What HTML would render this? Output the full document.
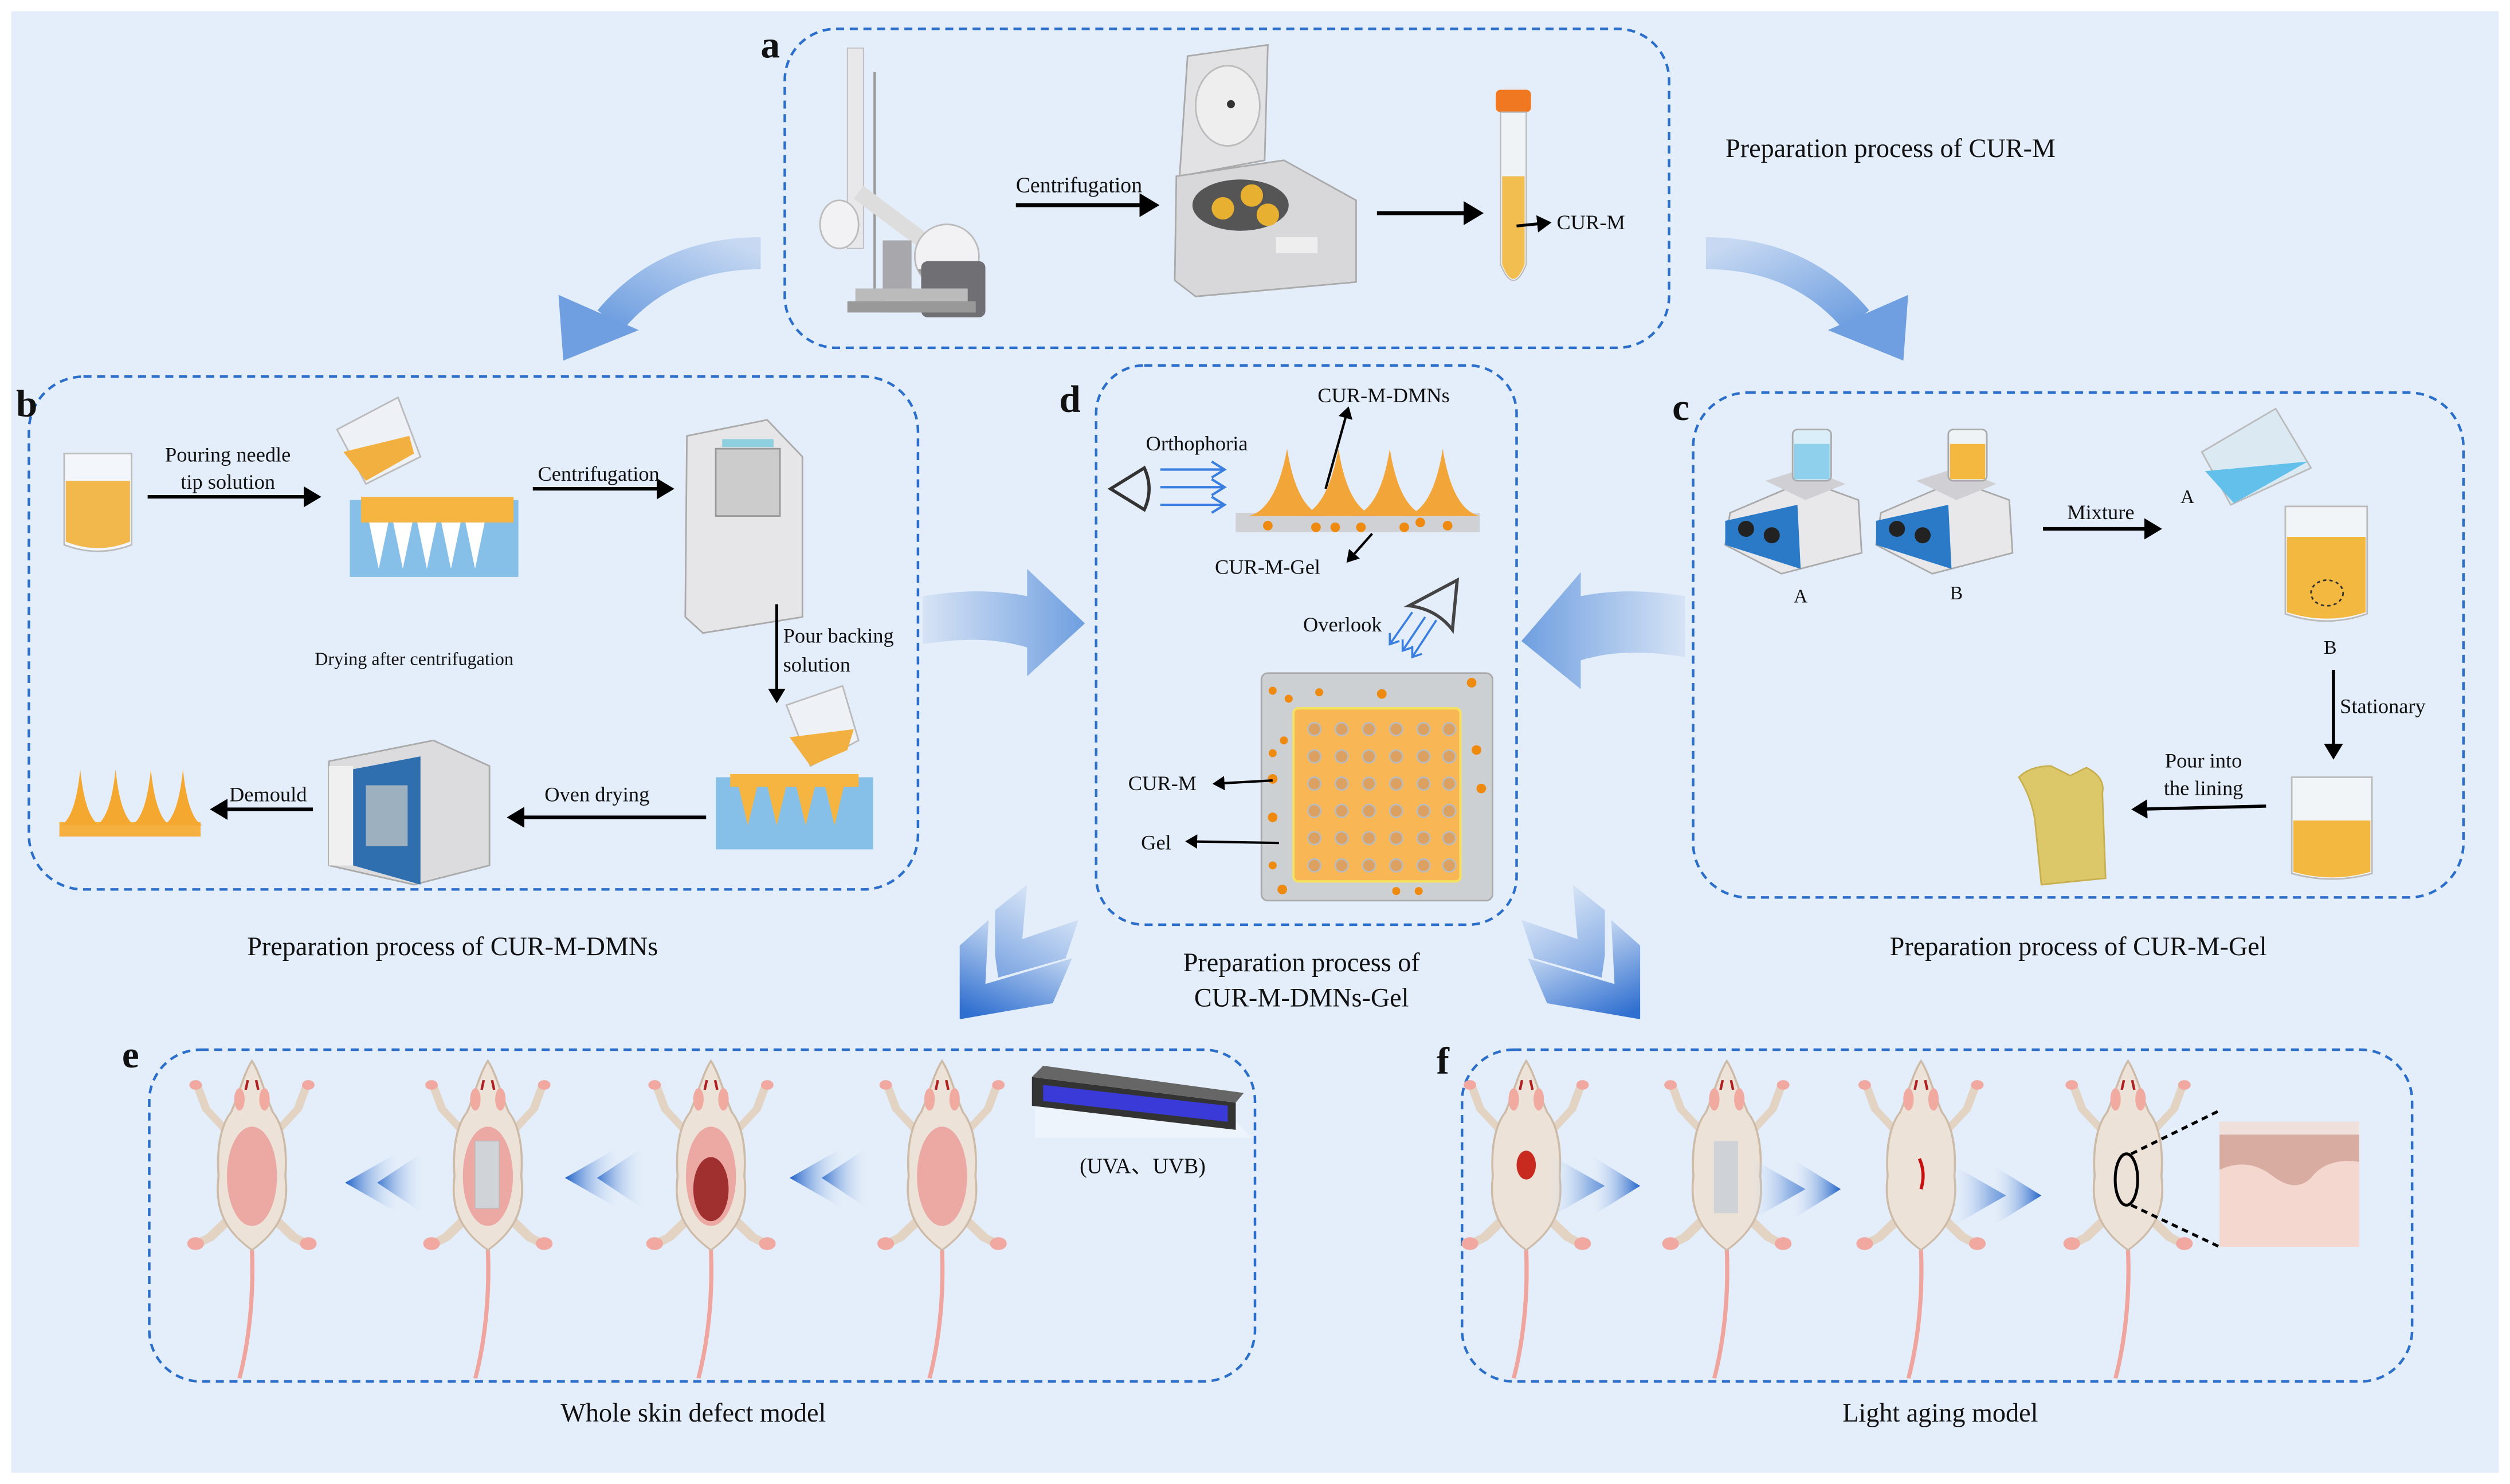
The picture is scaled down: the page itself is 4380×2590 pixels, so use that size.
<!DOCTYPE html>
<html><head><meta charset="utf-8"><style>
html,body{margin:0;padding:0;background:#fff}
svg{display:block}
text{font-family:"Liberation Serif",serif;fill:#111}
</style></head><body>
<svg width="4380" height="2590" viewBox="0 0 1564 926" preserveAspectRatio="none" xmlns="http://www.w3.org/2000/svg">
<defs>
<linearGradient id="ga" x1="1" y1="0" x2="0" y2="1"><stop offset="0" stop-color="#c7d9f2"/><stop offset="1" stop-color="#6f9fe0"/></linearGradient>
<linearGradient id="gb" x1="0" y1="0" x2="1" y2="0"><stop offset="0" stop-color="#d6e3f5"/><stop offset="1" stop-color="#6f9fe0"/></linearGradient>
<linearGradient id="gc" x1="1" y1="0" x2="0" y2="0"><stop offset="0" stop-color="#d6e3f5"/><stop offset="1" stop-color="#6f9fe0"/></linearGradient>
<linearGradient id="gv" x1="0.7" y1="0" x2="0.2" y2="1"><stop offset="0" stop-color="#e3edf9"/><stop offset="1" stop-color="#2f6fd0"/></linearGradient>
<linearGradient id="gl" x1="1" y1="0" x2="0" y2="0"><stop offset="0" stop-color="#e6eefa" stop-opacity="0"/><stop offset="1" stop-color="#1f62c8"/></linearGradient>
<linearGradient id="gr" x1="0" y1="0" x2="1" y2="0"><stop offset="0" stop-color="#e6eefa" stop-opacity="0"/><stop offset="1" stop-color="#1f62c8"/></linearGradient>
<marker id="ah" markerWidth="6" markerHeight="6" refX="4" refY="3" orient="auto" markerUnits="strokeWidth"><path d="M0,0 L5,3 L0,6 Z" fill="#000"/></marker>
<g id="mouse">
<path d="M0,118 C1,150 -2,178 -6,198" stroke="#f0a49e" stroke-width="2" fill="none"/>
<path d="M-12,44 L-22,30 L-26,16" stroke="#e2d3c3" stroke-width="4" fill="none"/>
<path d="M12,44 L22,30 L26,16" stroke="#e2d3c3" stroke-width="4" fill="none"/>
<path d="M-12,100 L-20,110 L-26,114" stroke="#e2d3c3" stroke-width="5" fill="none"/>
<path d="M12,100 L20,110 L26,114" stroke="#e2d3c3" stroke-width="5" fill="none"/>
<circle cx="-27" cy="15" r="3" fill="#f0a8a0"/><circle cx="27" cy="15" r="3" fill="#f0a8a0"/>
<circle cx="-27" cy="114" r="4" fill="#f0a8a0"/><circle cx="27" cy="114" r="4" fill="#f0a8a0"/>
<path d="M0,0 C-4,8 -6,20 -10,32 C-15,40 -17,55 -16,72 C-18,92 -13,106 0,118 C13,106 18,92 16,72 C17,55 15,40 10,32 C6,20 4,8 0,0Z" fill="#ece2d8" stroke="#cdbba8" stroke-width="1"/>
<ellipse cx="-6" cy="24" rx="2.5" ry="7" fill="#f0aaa0"/><ellipse cx="6" cy="24" rx="2.5" ry="7" fill="#f0aaa0"/>
<path d="M-2,12 L-3,18 M2,12 L3,18" stroke="#b02020" stroke-width="1.2"/>
</g>
<g id="belly"><ellipse cx="0" cy="72" rx="12" ry="31" fill="#eca8a3"/></g>
<g id="chev">
<path d="M598,636 L598,590 L616,574 L614,614 L668,598 L656,626 Z" fill="url(#gv)"/>
<path d="M620,596 L620,568 L640,552 L637,586 L672,574 L664,598 L622,610 Z" fill="url(#gv)" opacity="0.55"/>
</g>
</defs>

<rect x="0" y="0" width="1564" height="926" fill="#fff"/>
<rect x="7" y="7" width="1550" height="912" fill="#e4eefa"/>

<!-- dashed boxes -->
<g fill="none" stroke="#2b6fcb" stroke-width="1.6" stroke-dasharray="5,3.5">
<rect x="489" y="18" width="551" height="199" rx="32"/>
<rect x="18" y="235" width="554" height="320" rx="34"/>
<rect x="1055" y="245" width="480" height="315" rx="34"/>
<rect x="683" y="228" width="262" height="349" rx="30"/>
<rect x="93" y="655" width="689" height="207" rx="32"/>
<rect x="911" y="655" width="592" height="207" rx="32"/>
</g>

<!-- panel letters -->
<g font-weight="bold" font-size="24">
<text x="474" y="36">a</text><text x="10" y="260">b</text><text x="1042" y="262">c</text>
<text x="660" y="257">d</text><text x="76" y="666">e</text><text x="895" y="670">f</text>
</g>

<!-- big curved arrows -->
<g id="carrow">
<path d="M474,158 Q415,158 380,200" stroke="url(#ga)" stroke-width="20" fill="none"/>
<path d="M351,225 L348,184 L398,206 Z" fill="#6f9fe0"/>
</g>
<use href="#carrow" transform="translate(1537,0) scale(-1,1)"/>
<path d="M575,372 C600,368 620,368 640,372 L640,355 L676,389 L640,422 L640,404 C620,398 600,398 575,402 Z" fill="url(#gb)"/>
<path d="M1050,372 C1025,368 1005,368 985,372 L985,357 L948,400 L985,430 L985,412 C1005,406 1025,406 1050,410 Z" fill="url(#gc)"/>

<!-- double chevrons down -->
<use href="#chev"/>
<use href="#chev" transform="translate(1620,0) scale(-1,1)"/>

<!-- captions -->
<g font-size="16.5" text-anchor="middle">
<text x="1178" y="98">Preparation process of CUR-M</text>
<text x="282" y="596">Preparation process of CUR-M-DMNs</text>
<text x="1295" y="596">Preparation process of CUR-M-Gel</text>
<text x="811" y="606">Preparation process of</text>
<text x="811" y="628">CUR-M-DMNs-Gel</text>
<text x="432" y="887">Whole skin defect model</text>
<text x="1209" y="887">Light aging model</text>
</g>

<!-- ===== panel a ===== -->
<g>
<rect x="528" y="30" width="10" height="125" fill="#e8e8ea" stroke="#bbb" stroke-width="0.6"/>
<line x1="545" y1="45" x2="545" y2="180" stroke="#999" stroke-width="1.5"/>
<path d="M535,120 L575,150" stroke="#ddd" stroke-width="10"/>
<circle cx="590" cy="160" r="20" fill="#f2f2f4" stroke="#bbb"/>
<path d="M572,168 A20,20 0 0 0 608,168 Z" fill="#999"/>
<ellipse cx="523" cy="140" rx="12" ry="15" fill="#f2f2f4" stroke="#bbb"/>
<rect x="550" y="150" width="18" height="45" fill="#a8a8ac"/>
<rect x="574" y="163" width="40" height="35" rx="4" fill="#707074"/>
<rect x="528" y="188" width="80" height="7" fill="#999"/>
<rect x="533" y="180" width="70" height="8" fill="#bbb"/>
<path d="M740,35 L790,28 L788,100 L735,110 Z" fill="#e2e2e4" stroke="#aaa"/>
<ellipse cx="765" cy="66" rx="20" ry="25" fill="#eee" stroke="#bbb"/>
<circle cx="767" cy="65" r="2.5" fill="#333"/>
<path d="M733,110 L800,100 L845,125 L845,176 L745,185 L732,175 Z" fill="#d8d8da" stroke="#aaa"/>
<ellipse cx="773" cy="128" rx="30" ry="16" fill="#555"/>
<circle cx="762" cy="130" r="7" fill="#e8b030"/><circle cx="780" cy="122" r="7" fill="#e8b030"/><circle cx="790" cy="134" r="7" fill="#e8b030"/>
<rect x="795" y="148" width="26" height="10" fill="#eee"/>
<path d="M633,128 L720,128" stroke="#000" stroke-width="2.5" marker-end="url(#ah)"/>
<text x="633" y="120" font-size="13.5">Centrifugation</text>
<path d="M858,133 L922,133" stroke="#000" stroke-width="2.5" marker-end="url(#ah)"/>
<rect x="932" y="56" width="22" height="14" rx="3" fill="#f07820"/>
<path d="M935,70 L951,70 L951,165 Q943,185 935,165 Z" fill="#f0f3f6" stroke="#bbb" stroke-width="0.8"/>
<path d="M936,110 L950,110 L950,165 Q943,183 936,165 Z" fill="#f2be50"/>
<path d="M945,141 L965,139" stroke="#000" stroke-width="1.8" marker-end="url(#ah)"/>
<text x="970" y="143" font-size="13">CUR-M</text>
</g>

<!-- ===== panel b ===== -->
<g>
<path d="M40,283 L82,283 L82,340 Q61,348 40,340 Z" fill="#f3f6fa" stroke="#bbb"/>
<path d="M41,300 L81,300 L81,338 Q61,346 41,338 Z" fill="#f2b84c"/>
<path d="M92,310 L198,310" stroke="#000" stroke-width="2.2" marker-end="url(#ah)"/>
<text x="142" y="288" font-size="13" text-anchor="middle">Pouring needle</text>
<text x="142" y="305" font-size="13" text-anchor="middle">tip solution</text>
<path d="M210,268 L248,248 L262,285 L228,302 Z" fill="#eef2f6" stroke="#bbb"/>
<path d="M214,282 L255,272 L258,283 L228,300 Z" fill="#f2b040"/>
<rect x="218" y="312" width="105" height="48" fill="#86c0e8"/>
<rect x="225" y="310" width="95" height="16" fill="#f5b540"/>
<g fill="#fff"><path d="M230,326 L236,355 L242,326Z"/><path d="M245,326 L251,355 L257,326Z"/><path d="M260,326 L266,355 L272,326Z"/><path d="M275,326 L281,355 L287,326Z"/><path d="M290,326 L296,355 L302,326Z"/></g>
<path d="M332,305 L418,305" stroke="#000" stroke-width="2.2" marker-end="url(#ah)"/>
<text x="373" y="300" font-size="13" text-anchor="middle">Centrifugation</text>
<path d="M428,272 L478,262 L500,285 L500,385 L438,395 L427,385 Z" fill="#e6e6e8" stroke="#aaa"/>
<rect x="446" y="280" width="40" height="42" fill="#ccc" stroke="#999"/>
<rect x="450" y="274" width="32" height="5" fill="#8fd0e0"/>
<text x="258" y="415" font-size="11.5" text-anchor="middle">Drying after centrifugation</text>
<path d="M484,377 L484,437" stroke="#000" stroke-width="1.8" marker-end="url(#ah)"/>
<text x="488" y="401" font-size="13">Pour backing</text>
<text x="488" y="419" font-size="13">solution</text>
<rect x="446" y="485" width="98" height="45" fill="#86c0e8"/>
<rect x="455" y="483" width="80" height="8" fill="#f5b540"/>
<g fill="#f5b540"><path d="M460,490 L466,515 L472,490Z"/><path d="M478,490 L484,515 L490,490Z"/><path d="M496,490 L502,515 L508,490Z"/><path d="M514,490 L520,515 L526,490Z"/></g>
<path d="M490,440 L525,428 L535,462 L505,478 Z" fill="#eef2f6" stroke="#bbb"/>
<path d="M492,460 L532,455 L528,468 L505,478 Z" fill="#f2b040"/>
<path d="M440,510 L318,510" stroke="#000" stroke-width="2.2" marker-end="url(#ah)"/>
<text x="372" y="500" font-size="13" text-anchor="middle">Oven drying</text>
<path d="M205,475 L270,462 L305,478 L305,540 L258,552 L205,540 Z" fill="#dcdcde" stroke="#aaa"/>
<path d="M220,480 L262,472 L262,552 L220,540 Z" fill="#2f6fb0"/>
<rect x="228" y="490" width="26" height="38" fill="#9cb0c0"/>
<rect x="205" y="478" width="15" height="62" fill="#f0f0f0"/>
<path d="M195,505 L133,505" stroke="#000" stroke-width="2.2" marker-end="url(#ah)"/>
<text x="167" y="500" font-size="13" text-anchor="middle">Demould</text>
<rect x="37" y="513" width="88" height="9" fill="#f5b040"/>
<g fill="#f5a830"><path d="M38,515 Q47,510 50,480 Q53,510 62,515Z"/><path d="M60,515 Q69,510 72,480 Q75,510 84,515Z"/><path d="M82,515 Q91,510 94,480 Q97,510 106,515Z"/><path d="M102,515 Q111,510 114,480 Q117,510 126,515Z"/></g>
</g>

<!-- ===== panel d ===== -->
<g>
<path d="M713,292 L692,305 L713,318 Q719,305 713,292Z" fill="none" stroke="#333" stroke-width="2"/>
<g stroke="#3a7fe0" stroke-width="1.5" fill="none">
<path d="M723,293 L763,293 M755,288 L763,293 L755,298"/>
<path d="M723,304 L763,304 M755,299 L763,304 L755,309"/>
<path d="M723,315 L763,315 M755,310 L763,315 L755,320"/>
</g>
<text x="714" y="281" font-size="13">Orthophoria</text>
<rect x="770" y="320" width="152" height="12" fill="#cfd1d4"/>
<g fill="#f2a63a"><path d="M778,322 Q795,318 802,280 Q808,318 825,322Z"/><path d="M810,322 Q827,318 834,280 Q840,318 857,322Z"/><path d="M843,322 Q860,318 866,280 Q872,318 889,322Z"/><path d="M876,322 Q893,318 899,280 Q905,318 922,322Z"/></g>
<g fill="#ef8a10"><circle cx="790" cy="328" r="3"/><circle cx="820" cy="329" r="3"/><circle cx="832" cy="329" r="3"/><circle cx="848" cy="329" r="3"/><circle cx="875" cy="329" r="3"/><circle cx="885" cy="326" r="3"/><circle cx="902" cy="328" r="3"/></g>
<path d="M826,305 L840,255" stroke="#000" stroke-width="1.5" marker-end="url(#ah)"/>
<text x="821" y="251" font-size="13">CUR-M-DMNs</text>
<path d="M855,333 L840,350" stroke="#000" stroke-width="1.5" marker-end="url(#ah)"/>
<text x="757" y="358" font-size="13">CUR-M-Gel</text>
<text x="812" y="394" font-size="13">Overlook</text>
<path d="M878,378 L908,362 L905,393 Q895,380 878,378Z" fill="none" stroke="#444" stroke-width="2"/>
<g stroke="#3a7fe0" stroke-width="1.3" fill="none"><path d="M880,382 L866,402 M866,395 L866,402 L872,400"/><path d="M888,385 L874,406 M874,399 L874,406 L880,404"/><path d="M895,387 L880,410 M880,403 L880,410 L886,408"/></g>
<rect x="786" y="420" width="144" height="142" rx="4" fill="#cdd0d3" stroke="#aaa"/>
<rect x="806" y="442" width="104" height="108" rx="3" fill="#f8b655" stroke="#f5e060" stroke-width="1.5"/>
<g fill="#dca060" stroke="#bbb" stroke-width="1">
<circle cx="819" cy="455" r="4"/><circle cx="836" cy="455" r="4"/><circle cx="853" cy="455" r="4"/><circle cx="870" cy="455" r="4"/><circle cx="887" cy="455" r="4"/><circle cx="903" cy="455" r="4"/>
<circle cx="819" cy="472" r="4"/><circle cx="836" cy="472" r="4"/><circle cx="853" cy="472" r="4"/><circle cx="870" cy="472" r="4"/><circle cx="887" cy="472" r="4"/><circle cx="903" cy="472" r="4"/>
<circle cx="819" cy="489" r="4"/><circle cx="836" cy="489" r="4"/><circle cx="853" cy="489" r="4"/><circle cx="870" cy="489" r="4"/><circle cx="887" cy="489" r="4"/><circle cx="903" cy="489" r="4"/>
<circle cx="819" cy="506" r="4"/><circle cx="836" cy="506" r="4"/><circle cx="853" cy="506" r="4"/><circle cx="870" cy="506" r="4"/><circle cx="887" cy="506" r="4"/><circle cx="903" cy="506" r="4"/>
<circle cx="819" cy="523" r="4"/><circle cx="836" cy="523" r="4"/><circle cx="853" cy="523" r="4"/><circle cx="870" cy="523" r="4"/><circle cx="887" cy="523" r="4"/><circle cx="903" cy="523" r="4"/>
<circle cx="819" cy="540" r="4"/><circle cx="836" cy="540" r="4"/><circle cx="853" cy="540" r="4"/><circle cx="870" cy="540" r="4"/><circle cx="887" cy="540" r="4"/><circle cx="903" cy="540" r="4"/>
</g>
<g fill="#ef8a10"><circle cx="793" cy="431" r="2.5"/><circle cx="803" cy="436" r="2.5"/><circle cx="822" cy="432" r="2.5"/><circle cx="861" cy="433" r="3"/><circle cx="917" cy="426" r="3"/><circle cx="793" cy="470" r="2.5"/><circle cx="800" cy="462" r="2.5"/><circle cx="793" cy="486" r="3"/><circle cx="920" cy="468" r="3"/><circle cx="923" cy="492" r="3"/><circle cx="793" cy="510" r="3"/><circle cx="793" cy="540" r="2.5"/><circle cx="799" cy="555" r="3"/><circle cx="870" cy="556" r="2.5"/><circle cx="884" cy="556" r="2.5"/></g>
<path d="M793,487 L757,489" stroke="#000" stroke-width="1.5" marker-end="url(#ah)"/>
<text x="703" y="493" font-size="13">CUR-M</text>
<path d="M797,526 L740,525" stroke="#000" stroke-width="1.5" marker-end="url(#ah)"/>
<text x="711" y="530" font-size="13">Gel</text>
</g>

<!-- ===== panel c ===== -->
<g>
<path d="M1078,320 L1125,300 L1158,312 L1160,345 L1110,358 L1075,340 Z" fill="#e8e8ea" stroke="#aaa"/>
<path d="M1075,325 L1120,315 L1122,355 L1075,340 Z" fill="#2a7ac8"/>
<circle cx="1088" cy="330" r="5" fill="#222"/><circle cx="1104" cy="334" r="5" fill="#222"/>
<path d="M1100,300 L1125,292 L1150,302 L1125,312 Z" fill="#d0d0d4"/>
<rect x="1117" y="268" width="24" height="32" rx="3" fill="#d9eef8" stroke="#aaa"/>
<rect x="1118" y="277" width="22" height="22" fill="#8fd0ec"/>
<path d="M1172,320 L1219,300 L1252,312 L1254,345 L1204,358 L1169,340 Z" fill="#e8e8ea" stroke="#aaa"/>
<path d="M1169,325 L1214,315 L1216,355 L1169,340 Z" fill="#2a7ac8"/>
<circle cx="1182" cy="330" r="5" fill="#222"/><circle cx="1198" cy="334" r="5" fill="#222"/>
<path d="M1194,300 L1219,292 L1244,302 L1219,312 Z" fill="#d0d0d4"/>
<rect x="1214" y="268" width="24" height="32" rx="3" fill="#eef3f6" stroke="#aaa"/>
<rect x="1215" y="277" width="22" height="22" fill="#f4b840"/>
<text x="1122" y="376" font-size="12" text-anchor="middle">A</text>
<text x="1219" y="374" font-size="12" text-anchor="middle">B</text>
<path d="M1273,330 L1345,330" stroke="#000" stroke-width="2.2" marker-end="url(#ah)"/>
<text x="1309" y="324" font-size="13" text-anchor="middle">Mixture</text>
<text x="1363" y="314" font-size="12" text-anchor="middle">A</text>
<path d="M1372,282 L1418,255 L1440,292 L1390,315 Z" fill="#dbeaf2" stroke="#bbb"/>
<path d="M1374,294 L1438,288 L1392,314 Z" fill="#62c0ea"/>
<path d="M1424,316 L1475,316 L1475,383 Q1450,392 1424,383 Z" fill="#f2f5f8" stroke="#bbb"/>
<path d="M1425,335 L1474,335 L1474,382 Q1450,390 1425,382 Z" fill="#f3b840"/>
<ellipse cx="1450" cy="370" rx="10" ry="8" fill="none" stroke="#333" stroke-dasharray="2,2"/>
<text x="1452" y="408" font-size="12" text-anchor="middle">B</text>
<path d="M1454,418 L1454,472" stroke="#000" stroke-width="2" marker-end="url(#ah)"/>
<text x="1458" y="445" font-size="13">Stationary</text>
<path d="M1428,485 L1478,485 L1478,545 Q1453,552 1428,545 Z" fill="#f2f5f8" stroke="#bbb"/>
<path d="M1429,512 L1477,512 L1477,544 Q1453,551 1429,544 Z" fill="#f3b840"/>
<path d="M1412,503 L1330,505" stroke="#000" stroke-width="2" marker-end="url(#ah)"/>
<text x="1373" y="479" font-size="13" text-anchor="middle">Pour into</text>
<text x="1373" y="496" font-size="13" text-anchor="middle">the lining</text>
<path d="M1258,485 Q1265,478 1278,478 L1290,484 L1300,479 Q1312,485 1310,495 L1312,548 L1272,552 L1268,512 Q1266,498 1258,485 Z" fill="#dcc868" stroke="#c8b050"/>
</g>

<!-- ===== panel e ===== -->
<g>
<g transform="translate(157,662) scale(1.3,1)"><use href="#mouse"/><use href="#belly"/></g>
<g transform="translate(304,662) scale(1.3,1)"><use href="#mouse"/><use href="#belly"/></g>
<rect x="296" y="712" width="15" height="42" fill="#d0d4d8" stroke="#bbb" stroke-width="0.5"/>
<g transform="translate(443,662) scale(1.3,1)"><use href="#mouse"/><use href="#belly"/></g>
<ellipse cx="443" cy="742" rx="11" ry="20" fill="#a03030"/>
<g transform="translate(587,662) scale(1.3,1)"><use href="#mouse"/><use href="#belly"/></g>
<path d="M645,690 L645,710 L780,710 L760,690 Z" fill="#eef4fb"/>
<path d="M643,672 L770,688 L770,705 L643,690 Z" fill="#333"/>
<path d="M650,677 L765,690 L765,700 L650,687 Z" fill="#3a3ad8"/>
<path d="M643,672 L650,665 L775,682 L770,688 Z" fill="#666"/>
<text x="712" y="732" font-size="13.5" text-anchor="middle">(UVA、UVB)</text>
<g fill="url(#gl)">
<path d="M215,738 L250,718 L250,758 Z"/><path d="M235,738 L265,718 L265,758 Z" opacity="0.8"/>
<path d="M352,735 L387,715 L387,755 Z"/><path d="M372,735 L402,715 L402,755 Z" opacity="0.8"/>
<path d="M492,735 L527,715 L527,755 Z"/><path d="M512,735 L542,715 L542,755 Z" opacity="0.8"/>
</g>
</g>

<!-- ===== panel f ===== -->
<g>
<g transform="translate(951,662) scale(1.3,1)"><use href="#mouse"/></g>
<ellipse cx="951" cy="727" rx="6" ry="9" fill="#c82a20"/>
<g transform="translate(1076,662) scale(1.3,1)"><use href="#mouse"/></g>
<rect x="1068" y="712" width="15" height="45" fill="#cfd3d8"/>
<g transform="translate(1197,662) scale(1.3,1)"><use href="#mouse"/></g>
<path d="M1196,723 Q1200,732 1197,742" stroke="#c81010" stroke-width="2" fill="none"/>
<g transform="translate(1326,662) scale(1.3,1)"><use href="#mouse"/></g>
<ellipse cx="1325" cy="736" rx="7" ry="16" fill="none" stroke="#000" stroke-width="1.8"/>
<path d="M1328,720 L1383,693 M1328,752 L1383,778" stroke="#000" stroke-width="1.8" stroke-dasharray="4,3"/>
<rect x="1383" y="700" width="87" height="78" fill="#f4d7ce"/>
<path d="M1383,700 L1470,700 L1470,725 Q1450,722 1440,735 Q1430,745 1415,733 Q1400,722 1383,730 Z" fill="#d9aca2"/>
<rect x="1383" y="700" width="87" height="8" fill="#f0e0dc"/>
<g fill="url(#gr)">
<path d="M1000,740 L965,720 L965,760 Z" opacity="0.8"/><path d="M1022,740 L990,720 L990,760 Z"/>
<path d="M1125,742 L1090,722 L1090,762 Z" opacity="0.8"/><path d="M1147,742 L1115,722 L1115,762 Z"/>
<path d="M1250,746 L1215,726 L1215,766 Z" opacity="0.8"/><path d="M1272,746 L1240,726 L1240,766 Z"/>
</g>
</g>
</svg>
</body></html>
